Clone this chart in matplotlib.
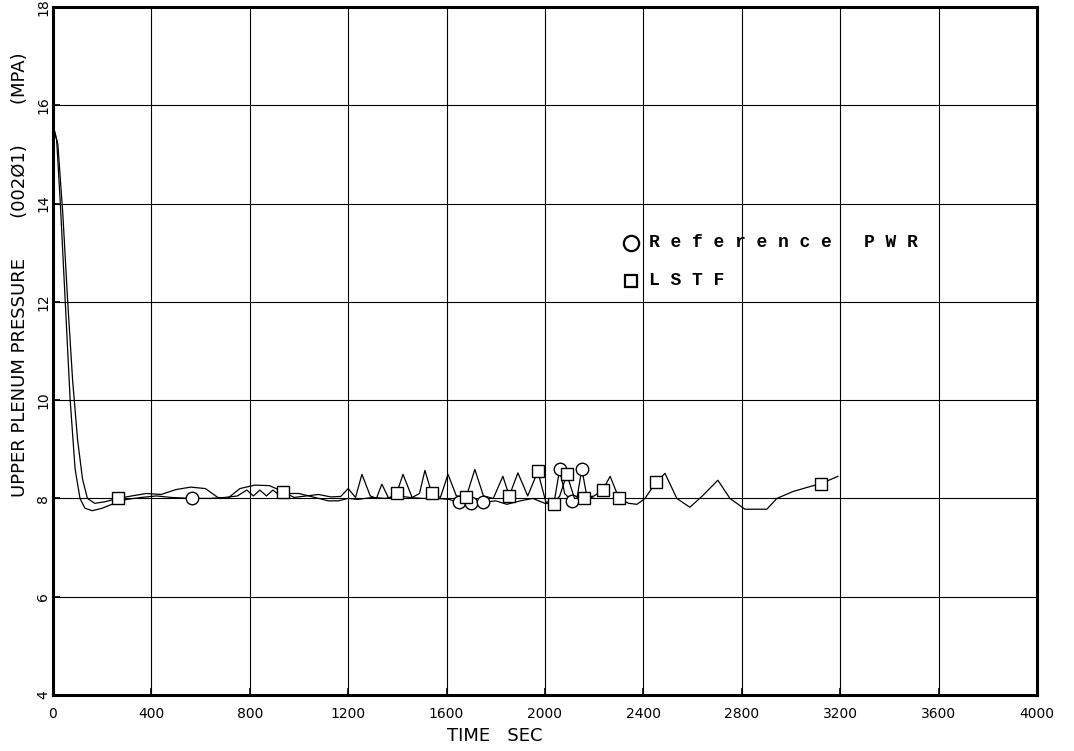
import numpy as np
import matplotlib
matplotlib.use("Agg")
import matplotlib.pyplot as plt

# upper plenum pressure traces (time in s, pressure in MPa)
pwr_time = [0, 15, 30, 50, 70, 90, 110, 130, 160, 200, 250, 300, 360, 420, 480,
            565, 640, 700, 750, 788, 815, 841, 868, 894, 925, 960, 1000, 1040,
            1080, 1120, 1160, 1200, 1240, 1300, 1350, 1400, 1450, 1500, 1560,
            1610, 1650, 1700, 1750, 1800, 1845, 1900, 1950, 2000, 2040, 2060,
            2080, 2110, 2130, 2150, 2170, 2200]
pwr_pres = [15.6, 15.3, 14.0, 12.0, 10.0, 8.6, 8.0, 7.8, 7.75, 7.8, 7.9, 7.98,
            8.02, 8.05, 8.02, 8.0, 8.0, 8.02, 8.05, 8.17, 8.05, 8.17, 8.05, 8.17,
            8.05, 8.1, 8.1, 8.05, 8.0, 7.95, 7.95, 8.0, 7.98, 8.02, 8.0, 8.05,
            8.02, 8.0, 8.0, 7.98, 7.92, 7.9, 7.92, 7.95, 7.88, 7.95, 8.0, 7.9,
            8.0, 8.6, 8.1, 7.95, 8.0, 8.6, 8.05, 8.0]
pwr_marks = [565, 1650, 1700, 1750, 2060, 2110, 2150]

lstf_time = [0, 20, 40, 60, 80, 100, 120, 140, 170, 210, 264, 320, 380, 440,
             500, 560, 620, 670, 710, 760, 820, 880, 935, 980, 1030, 1080, 1130,
             1170, 1200, 1230, 1256, 1290, 1315, 1337, 1365, 1397, 1423, 1460,
             1490, 1512, 1540, 1575, 1606, 1640, 1680, 1715, 1750, 1790, 1829,
             1855, 1890, 1930, 1971, 2005, 2035, 2060, 2089, 2120, 2160, 2200,
             2236, 2265, 2301, 2340, 2374, 2407, 2451, 2488, 2536, 2589, 2640,
             2703, 2752, 2813, 2860, 2902, 2943, 3008, 3077, 3122, 3191]
lstf_pres = [15.6, 15.2, 13.8, 12.0, 10.4, 9.2, 8.4, 8.0, 7.9, 7.93, 8.0, 8.05,
             8.1, 8.08, 8.18, 8.23, 8.2, 8.02, 8.0, 8.2, 8.27, 8.26, 8.14, 8.02,
             8.05, 8.08, 8.03, 8.04, 8.2, 8.02, 8.49, 8.05, 8.0, 8.29, 8.0, 8.1,
             8.49, 8.02, 8.1, 8.57, 8.1, 8.02, 8.49, 8.05, 8.03, 8.59, 8.05, 8.0,
             8.45, 8.05, 8.52, 8.05, 8.55, 7.9, 7.88, 8.05, 8.49, 8.0, 8.0, 8.05,
             8.18, 8.45, 8.0, 7.9, 7.88, 8.0, 8.33, 8.51, 8.0, 7.82, 8.05, 8.37,
             8.0, 7.78, 7.78, 7.78, 8.0, 8.14, 8.24, 8.3, 8.45]
lstf_marks = [264, 935, 1397, 1540, 1680, 1855, 1971, 2035, 2089, 2160, 2236,
              2301, 2451, 3122]

x_ticks = [0, 400, 800, 1200, 1600, 2000, 2400, 2800, 3200, 3600, 4000]
y_ticks = [4, 6, 8, 10, 12, 14, 16, 18]


def mark_index(t, marks):
    t = np.asarray(t)
    return [int(np.argmin(np.abs(t - m))) for m in marks]


fig = plt.figure(figsize=(10.74, 7.51), dpi=100)
ax = fig.add_axes([0.0493, 0.0746, 0.9162, 0.9161])

ax.plot(pwr_time, pwr_pres, color="black", lw=0.9, marker="o", ms=9,
        mfc="white", mec="black", mew=1.0,
        markevery=mark_index(pwr_time, pwr_marks))
ax.plot(lstf_time, lstf_pres, color="black", lw=0.9, marker="s", ms=9,
        mfc="white", mec="black", mew=1.0,
        markevery=mark_index(lstf_time, lstf_marks))

ax.set_xlim(0, 4000)
ax.set_ylim(4, 18)
ax.set_xticks(x_ticks)
ax.set_yticks(y_ticks)
ax.set_xticklabels([str(v) for v in x_ticks], fontsize=10)
ax.set_yticklabels([str(v) for v in y_ticks], fontsize=10,
                   rotation=90, va="center")
ax.tick_params(axis="x", direction="in", length=5, width=1.2, pad=9)
ax.tick_params(axis="y", direction="in", length=5, width=1.2, pad=2)
ax.grid(True, color="black", lw=0.8)
for s in ax.spines.values():
    s.set_linewidth(2.2)

fig.text(0.461, 0.008, "TIME   SEC", fontsize=13, ha="center", va="bottom")
fig.text(0.019, 0.634, "UPPER PLENUM PRESSURE       (002Ø1)       (MPA)",
         fontsize=13, rotation=90, ha="center", va="center")

# legend drawn as marker + spaced label
ax.plot([2350], [13.2], marker="o", ms=11, mfc="white", mec="black", mew=1.6,
        ls="none")
ax.plot([2350], [12.43], marker="s", ms=9, mfc="white", mec="black", mew=1.6,
        ls="none")
ax.text(2425, 13.2, "R e f e r e n c e   P W R", family="Liberation Mono",
        fontsize=13, fontweight="bold", va="center")
ax.text(2425, 12.43, "L S T F", family="Liberation Mono", fontsize=13,
        fontweight="bold", va="center")

fig.savefig("out.png", dpi=100)
